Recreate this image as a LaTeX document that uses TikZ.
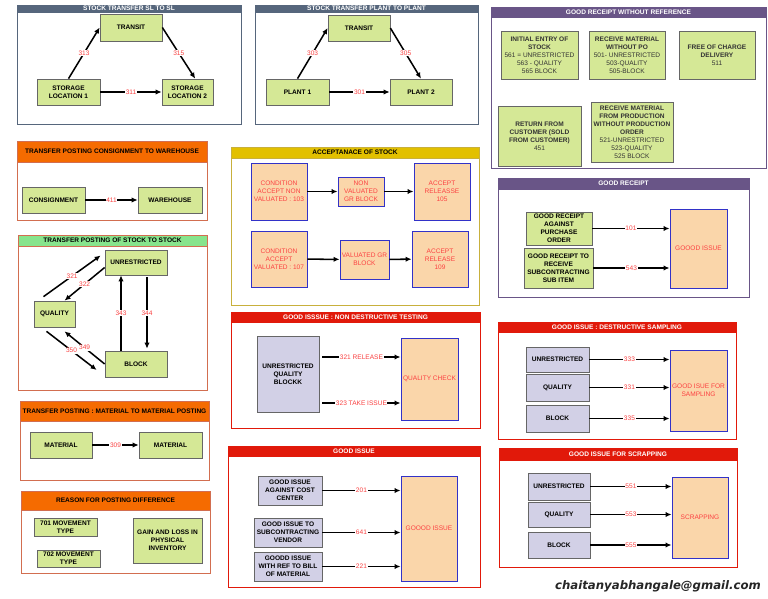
\documentclass[tikz,border=0pt]{standalone}
\usepackage{fontspec}
\setmainfont{Liberation Sans}
\newfontfamily\mailfont{DejaVu Sans}
\usepackage{tikz}
\usetikzlibrary{arrows.meta,calc}

\definecolor{grn}{RGB}{213,232,150}
\definecolor{pch}{RGB}{250,214,170}
\definecolor{lavfill}{RGB}{210,208,230}
\definecolor{blu}{RGB}{50,50,200}
\definecolor{redtxt}{RGB}{250,65,65}
\definecolor{slate}{RGB}{86,102,124}
\definecolor{purp}{RGB}{105,85,135}
\definecolor{orng}{RGB}{245,107,0}
\definecolor{orline}{RGB}{210,110,80}
\definecolor{bargold}{RGB}{226,192,0}
\definecolor{goldline}{RGB}{200,176,60}
\definecolor{lgrn}{RGB}{135,228,140}
\definecolor{redbar}{RGB}{225,25,10}
\newcommand{\boxfont}{\fontsize{5.6}{6.8}\selectfont}

\begin{document}
\begin{tikzpicture}[
    x=0.3mm, y=-0.3mm,
    font=\boxfont,
    loc/.style args={#1/#2/#3/#4}{at={({(#1+#3)/2},{(#2+#4)/2})},
                minimum width={(#3-#1)*0.3mm}, minimum height={(#4-#2)*0.3mm}},
    frm/.style={draw, line width=0.7pt, fill=white, inner sep=0pt},
    ttl/.style={draw, inner sep=0pt, font=\boxfont\bfseries, text=white},
    box/.style={draw=black!60, fill=grn, line width=0.6pt, inner sep=0pt,
                align=center, font=\boxfont\bfseries},
    rcv/.style={box, font=\boxfont, text=black!80},
    acc/.style={draw=blu, fill=pch, line width=0.8pt, inner sep=0pt,
                align=center, text=redtxt},
    lbx/.style={draw=black!60, fill=lavfill, line width=0.6pt, inner sep=0pt,
                align=center, font=\boxfont\bfseries},
    arr/.style={-{Latex[length=1.8mm, width=1.6mm]}, line width=1.3pt},
    num/.style={midway, fill=white, inner sep=0.5pt, text=redtxt, font=\boxfont}
]
\path[use as bounding box, fill=white] (0,0) rectangle (768,599);

\node[frm, draw=slate, loc=17/5/241/124] (p1) {};
\node[ttl, draw=slate, fill=slate, loc=17/5/241/12] (t1) {STOCK TRANSFER SL TO SL};
\node[box, loc=100/14/162/41] (tr1) {TRANSIT};
\node[box, loc=37/79/100/105] (sl1) {STORAGE\\LOCATION 1};
\node[box, loc=162/79/213/105] (sl2) {STORAGE\\LOCATION 2};
\draw[arr] (sl1.north) -- (tr1.west) node[num]{313};
\draw[arr] (tr1.east) -- (sl2.60) node[num]{315};
\draw[arr] (sl1) -- (sl2) node[num]{311};

\node[frm, draw=slate, loc=255/5/478/124] (p2) {};
\node[ttl, draw=slate, fill=slate, loc=255/5/478/12] (t2) {STOCK TRANSFER PLANT TO PLANT};
\node[box, loc=328/15/390/41] (tr2) {TRANSIT};
\node[box, loc=266/79/329/105] (pl1) {PLANT 1};
\node[box, loc=390/79/452/105] (pl2) {PLANT 2};
\draw[arr] (pl1.north) -- (tr2.west) node[num]{303};
\draw[arr] (tr2.east) -- (pl2.north) node[num]{305};
\draw[arr] (pl1) -- (pl2) node[num]{301};

\node[frm, draw=purp, loc=491/7/766/168] (p3) {};
\node[ttl, draw=purp, fill=purp, loc=491/7/766/17] (t3) {GOOD RECEIPT WITHOUT REFERENCE};
\node[rcv, loc=501/31/578/79] (r1)
     {\textbf{INITIAL ENTRY OF}\\\textbf{STOCK}\\561 = UNRESTRICTED\\563 - QUALITY\\565 BLOCK};
\node[rcv, loc=589/31/665/79] (r2)
     {\textbf{RECEIVE MATERIAL}\\\textbf{WITHOUT PO}\\501- UNRESTRICTED\\503-QUALITY\\505-BLOCK};
\node[rcv, loc=679/31/755/79] (r3)
     {\textbf{FREE OF CHARGE}\\\textbf{DELIVERY}\\511};
\node[rcv, loc=498/106/581/166] (r4)
     {\textbf{RETURN FROM}\\\textbf{CUSTOMER (SOLD}\\\textbf{FROM CUSTOMER)}\\451};
\node[rcv, loc=591/102/673/162] (r5)
     {\textbf{RECEIVE MATERIAL}\\\textbf{FROM PRODUCTION}\\\textbf{WITHOUT PRODUCTION}\\\textbf{ORDER}\\521-UNRESTRICTED\\523-QUALITY\\525 BLOCK};

\node[frm, draw=orline, loc=17/141/207/220] (p4) {};
\node[ttl, draw=orline, fill=orng, text=black, loc=17/141/207/162] (t4) {TRANSFER POSTING CONSIGNMENT TO WAREHOUSE};
\node[box, loc=22/187/85/213] (con) {CONSIGNMENT};
\node[box, loc=138/187/202/213] (wh) {WAREHOUSE};
\draw[arr] (con) -- (wh) node[num]{411};

\node[frm, draw=goldline, loc=231/147/479/305] (p5) {};
\node[ttl, draw=goldline, fill=bargold, text=black, loc=231/147/479/158] (t5) {ACCEPTANACE OF STOCK};
\node[acc, loc=251/163/307/220] (a1) {CONDITION\\ACCEPT NON\\VALUATED : 103};
\node[acc, loc=338/177/384/206] (a2) {NON\\VALUATED\\GR BLOCK};
\node[acc, loc=414/163/470/220] (a3) {ACCEPT\\RELEASSE\\105};
\node[acc, loc=251/231/307/287] (b1) {CONDITION\\ACCEPT\\VALUATED : 107};
\node[acc, loc=340/240/389/279] (b2) {VALUATED GR\\BLOCK};
\node[acc, loc=412/231/468/287] (b3) {ACCEPT\\RELEASE\\109};
\draw[arr] (a1) -- (a2);
\draw[arr] (a2) -- (a3);
\draw[arr] (b1) -- (b2);
\draw[arr] (b2) -- (b3);

\node[frm, draw=purp, loc=498/178/749/297] (p6) {};
\node[ttl, draw=purp, fill=purp, loc=498/178/749/189] (t6) {GOOD RECEIPT};
\node[box, loc=526/212/592/245] (g1) {GOOD RECEIPT\\AGAINST\\PURCHASE\\ORDER};
\node[box, loc=524/248/593/288] (g2) {GOOD RECEIPT TO\\RECEIVE\\SUBCONTRACTING\\SUB ITEM};
\node[acc, loc=670/209/727/288] (gi) {GOOOD ISSUE};
\draw[arr] (g1.east) -- (g1.east -| gi.west) node[num]{101};
\draw[arr] (g2.east) -- (g2.east -| gi.west) node[num]{543};

\node[frm, draw=orline, loc=18/235/207/390] (p7) {};
\node[ttl, draw=orline, fill=lgrn, text=black, loc=18/235/207/246] (t7) {TRANSFER POSTING OF STOCK TO STOCK};
\node[box, loc=105/250/167/275] (un) {UNRESTRICTED};
\node[box, loc=34/301/75/327] (qu) {QUALITY};
\node[box, loc=105/351/167/377] (bl) {BLOCK};
\draw[arr] ($(qu.north)+(-11,-4)$) -- ($(un.west)+(-4,-7)$) node[num]{321};
\draw[arr] ($(un.west)+(0,5)$) -- ($(qu.north)+(10,0)$) node[num]{322};
\draw[arr] ($(bl.north)+(-15,0)$) -- ($(un.south)+(-15,0)$) node[num]{343};
\draw[arr] ($(un.south)+(11,2)$) -- ($(bl.north)+(11,-2)$) node[num]{344};
\draw[arr] (bl.west) -- ($(qu.south)+(10,4)$) node[num]{349};
\draw[arr] ($(qu.south)+(-8,4)$) -- ($(bl.west)+(-8,6)$) node[num]{350};

\node[frm, draw=redbar, loc=231/312/480/428] (p8) {};
\node[ttl, draw=redbar, fill=redbar, loc=231/312/480/322] (t8) {GOOD ISSSUE : NON DESTRUCTIVE TESTING};
\node[lbx, loc=257/336/319/412] (ub) {UNRESTRICTED\\QUALITY\\BLOCKK};
\node[acc, loc=401/338/458/420] (qc) {QUALITY CHECK};
\coordinate (q1) at ($(ub.east)+(3,-17)$);
\coordinate (q2) at ($(ub.east)+(3,29)$);
\draw[arr] (q1) -- (q1 -| qc.west) node[num]{321 RELEASE};
\draw[arr] (q2) -- (q2 -| qc.west) node[num]{323 TAKE ISSUE};

\node[frm, draw=redbar, loc=498/322/736/439] (p9) {};
\node[ttl, draw=redbar, fill=redbar, loc=498/322/736/332] (t9) {GOOD ISSUE : DESTRUCTIVE SAMPLING};
\node[lbx, loc=526/347/589/372] (su) {UNRESTRICTED};
\node[lbx, loc=526/374/589/401] (sq) {QUALITY};
\node[lbx, loc=526/405/589/432] (sb) {BLOCK};
\node[acc, loc=670/350/727/431] (gs) {GOOD ISUE FOR\\SAMPLING};
\draw[arr] (su.east) -- (su.east -| gs.west) node[num]{333};
\draw[arr] (sq.east) -- (sq.east -| gs.west) node[num]{331};
\draw[arr] (sb.east) -- (sb.east -| gs.west) node[num]{335};

\node[frm, draw=orline, loc=20/401/209/480] (p10) {};
\node[ttl, draw=orline, fill=orng, text=black, loc=20/401/209/421] (t10) {TRANSFER POSTING :  MATERIAL TO MATERIAL POSTING};
\node[box, loc=30/432/92/458] (m1) {MATERIAL};
\node[box, loc=139/432/202/458] (m2) {MATERIAL};
\draw[arr] (m1) -- (m2) node[num]{309};

\node[frm, draw=orline, loc=21/491/210/573] (p11) {};
\node[ttl, draw=orline, fill=orng, text=black, loc=21/491/210/510] (t11) {REASON FOR POSTING DIFFERENCE};
\node[box, loc=34/518/97/536] (mv1) {701 MOVEMENT\\TYPE};
\node[box, loc=37/550/100/567] (mv2) {702 MOVEMENT\\TYPE};
\node[box, loc=133/518/202/563] (gl) {GAIN AND LOSS IN\\PHYSICAL\\INVENTORY};

\node[frm, draw=redbar, loc=228/446/480/587] (p12) {};
\node[ttl, draw=redbar, fill=redbar, loc=228/446/480/456] (t12) {GOOD ISSUE};
\node[lbx, loc=258/476/322/505] (i1) {GOOD ISSUE\\AGAINST COST\\CENTER};
\node[lbx, loc=254/518/322/547] (i2) {GOOD ISSUE TO\\SUBCONTRACTING\\VENDOR};
\node[lbx, loc=254/552/322/581] (i3) {GOODD ISSUE\\WITH REF TO BILL\\OF MATERIAL};
\node[acc, loc=401/476/457/581] (gi2) {GOOOD ISSUE};
\draw[arr] (i1.east) -- (i1.east -| gi2.west) node[num]{201};
\draw[arr] (i2.east) -- (i2.east -| gi2.west) node[num]{641};
\draw[arr] (i3.east) -- (i3.east -| gi2.west) node[num]{221};

\node[frm, draw=redbar, loc=499/448/737/567] (p13) {};
\node[ttl, draw=redbar, fill=redbar, loc=499/448/737/460] (t13) {GOOD ISSUE FOR SCRAPPING};
\node[lbx, loc=528/473/590/500] (xu) {UNRESTRICTED};
\node[lbx, loc=528/502/590/527] (xq) {QUALITY};
\node[lbx, loc=528/532/590/558] (xb) {BLOCK};
\node[acc, loc=672/477/728/558] (sc) {SCRAPPING};
\draw[arr] (xu.east) -- (xu.east -| sc.west) node[num]{551};
\draw[arr] (xq.east) -- (xq.east -| sc.west) node[num]{553};
\draw[arr] (xb.east) -- (xb.east -| sc.west) node[num]{555};

\node[font=\mailfont\fontsize{10}{12}\selectfont\bfseries\itshape, text=black!85] (mail) at (658,586) {chaitanyabhangale@gmail.com};
\end{tikzpicture}
\end{document}
